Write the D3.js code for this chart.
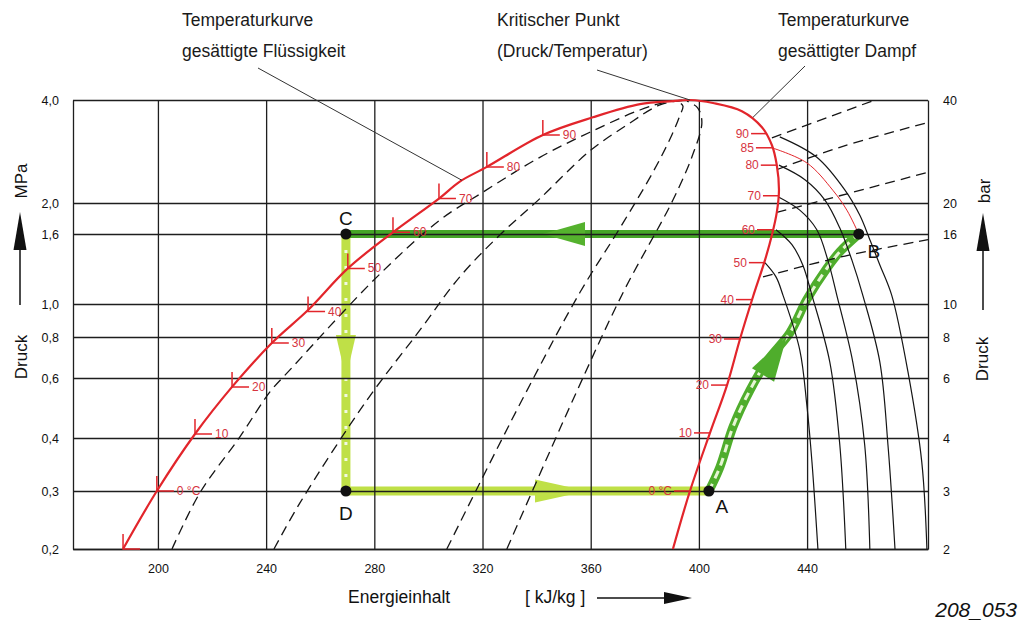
<!DOCTYPE html>
<html>
<head>
<meta charset="utf-8">
<script src="https://cdn.jsdelivr.net/npm/d3@7"></script>
<style>
body { margin: 0; background: #fff; }
svg { display: block; font-family: "Liberation Sans", Arial, sans-serif; }
</style>
</head>
<body>
<svg width="1025" height="621"></svg>
<script>
const svg = d3.select("svg");

// enthalpy h in kJ/kg, pressure p in MPa
const enthalpyTicks = [200, 240, 280, 320, 360, 400, 440];
const pressureTicks = [0.2, 0.3, 0.4, 0.6, 0.8, 1.0, 1.6, 2.0, 4.0];

// saturation curve, liquid side up to the critical point, then vapour side down
const saturationH = [187.1, 199.6, 213.7, 227.4, 242.1, 255.5, 270.2, 286.9, 303.9, 311.6, 321.6, 342.3, 360.8, 378.2, 390.4, 396.7,
    405.2, 415.9, 423.3, 427.0, 428.8, 429.6, 428.8, 427.0, 424.4, 420.0, 415.2, 410.4, 404.1, 396.7, 390.4];
const saturationP = [0.2, 0.3, 0.411, 0.565, 0.767, 0.96, 1.27, 1.62, 2.06, 2.31, 2.55, 3.16, 3.56, 3.89, 3.97, 4.0,
    3.92, 3.71, 3.33, 2.95, 2.58, 2.18, 1.87, 1.59, 1.34, 1.05, 0.789, 0.572, 0.414, 0.3, 0.2];

const liquidLabels = ["", "0 °C", "10", "20", "30", "40", "50", "60", "70", "80", "90"];
const liquidTickH = [187.1, 199.6, 213.7, 227.4, 242.1, 255.5, 270.2, 286.9, 303.9, 321.6, 342.3];
const liquidTickP = [0.2, 0.3, 0.411, 0.565, 0.767, 0.95, 1.27, 1.62, 2.06, 2.55, 3.16];

const vaporLabels = ["90", "85", "80", "70", "60", "50", "40", "30", "20", "10", "0 °C"];
const vaporTickH = [425.2, 427.0, 428.8, 429.6, 427.4, 424.4, 419.6, 415.2, 410.4, 404.1, 396.7];
const vaporTickP = [3.19, 2.90, 2.58, 2.10, 1.65, 1.32, 1.03, 0.789, 0.572, 0.414, 0.3];

// dashed lines inside the dome
const qualityH = [
    [205.2, 215.5, 230.3, 241.4, 248.8, 281.0, 304.3, 320.1, 341.2, 359.7, 378.2, 388.2, 394.8],
    [242.9, 252.5, 277.3, 296.9, 311.6, 326.4, 341.2, 359.7, 373.4, 385.6, 394.8],
    [306.8, 334.6, 356.0, 370.8, 383.0, 390.0, 393.0, 394.1, 392.2],
    [329.0, 353.4, 371.9, 390.4, 397.8, 401.1, 399.6, 395.6]
];
const qualityP = [
    [0.2, 0.296, 0.403, 0.546, 0.635, 1.20, 1.77, 2.15, 2.72, 3.22, 3.74, 3.95, 4.0],
    [0.2, 0.276, 0.517, 0.839, 1.20, 1.59, 2.06, 2.84, 3.38, 3.87, 4.0],
    [0.2, 0.517, 1.08, 1.67, 2.46, 3.16, 3.61, 3.84, 3.97],
    [0.2, 0.517, 1.077, 2.04, 2.78, 3.44, 3.79, 3.97]
];

// dashed lines in the superheated area
const isentropeH = [[427.0, 465.1], [429.2, 452.1, 484.7], [428.8, 452.1, 484.7], [423.7, 454.0, 484.7]];
const isentropeP = [[3.10, 4.0], [2.51, 2.91, 3.44], [1.87, 2.10, 2.46], [1.20, 1.38, 1.54]];

// solid arcs in the superheated area
const isothermH = [
    [424.4, 428.5, 431.1, 437.3, 439.9, 441.8, 444.0],
    [428.5, 434.4, 438.4, 441.8, 448.4, 452.1, 454.3],
    [429.6, 437.3, 443.6, 447.7, 451.0, 456.9, 461.3, 463.2],
    [429.6, 439.2, 446.6, 452.1, 456.6, 460.6, 466.9, 469.9, 472.5],
    [429.9, 443.6, 454.0, 459.5, 463.2, 466.9, 471.3, 477.3, 482.4, 484.3]
];
const isothermP = [
    [1.32, 1.20, 1.06, 0.730, 0.500, 0.351, 0.2],
    [1.65, 1.49, 1.30, 1.06, 0.671, 0.385, 0.2],
    [2.08, 1.90, 1.65, 1.34, 1.06, 0.671, 0.385, 0.2],
    [2.58, 2.34, 2.04, 1.67, 1.34, 1.06, 0.671, 0.385, 0.2],
    [3.12, 2.72, 2.18, 1.83, 1.54, 1.30, 1.06, 0.626, 0.351, 0.2]
];

// thin red line from 85 °C to B
const dischargeH = [427.0, 439.9, 449.5, 454.7, 459.1];
const dischargeP = [2.90, 2.62, 2.18, 1.90, 1.6];

// refrigeration cycle
const cycleNames = ["C", "D", "A", "B"];
const cycleH = [269.5, 269.5, 403.7, 459.1];
const cycleP = [1.6, 0.3, 0.3, 1.6];
const compressionH = [403.7, 407.8, 412.6, 418.9, 425.5, 433.6, 439.9, 447.3, 452.1, 459.1];
const compressionP = [0.3, 0.342, 0.431, 0.553, 0.681, 0.822, 1.03, 1.27, 1.42, 1.6];

const x = d3.scaleLinear().domain([168.6, 484.7]).range([73, 928]);
const y = d3.scaleLog().domain(pressureTicks).range([549, 491, 438, 378, 337, 304, 234, 203, 100]);

const zip = (hs, ps) => hs.map((h, i) => [h, ps[i]]);
const curve = d3.line().x(d => x(d[0])).y(d => y(d[1])).curve(d3.curveCatmullRom.alpha(0.5));
const straight = d3.line().x(d => x(d[0])).y(d => y(d[1]));
const pt = name => [cycleH[cycleNames.indexOf(name)], cycleP[cycleNames.indexOf(name)]];

const red = "#e2252b", redText = "#d6343f", green = "#4fad2c", darkGreen = "#45a527", yellowGreen = "#bfe047";

// ---- cycle lines (under the grid) ----
const gCycle = svg.append("g");

function arrow(tip, tail, hw, color) {
    const tx = x(tip[0]), ty = y(tip[1]), bx = x(tail[0]), by = y(tail[1]);
    const len = Math.hypot(tx - bx, ty - by), ux = (tx - bx) / len, uy = (ty - by) / len;
    gCycle.append("path")
        .attr("d", `M${tx},${ty}L${bx - uy * hw},${by + ux * hw}L${bx + uy * hw},${by - ux * hw}Z`)
        .attr("fill", color);
}

gCycle.append("path").attr("d", straight([pt("D"), pt("A")]))
    .attr("stroke", yellowGreen).attr("stroke-width", 9).attr("fill", "none");
gCycle.append("path").attr("d", straight([pt("C"), pt("D")]))
    .attr("stroke", yellowGreen).attr("stroke-width", 9).attr("fill", "none");
gCycle.append("path").attr("d", straight([pt("C"), pt("D")]))
    .attr("stroke", "#f2f9e4").attr("stroke-width", 3).attr("stroke-dasharray", "3,13").attr("fill", "none");
gCycle.append("path").attr("d", straight([pt("B"), pt("C")]))
    .attr("stroke", darkGreen).attr("stroke-width", 8).attr("fill", "none");
gCycle.append("path").attr("d", curve(zip(compressionH, compressionP)))
    .attr("stroke", green).attr("stroke-width", 9).attr("fill", "none");
gCycle.append("path").attr("d", curve(zip(compressionH, compressionP)))
    .attr("stroke", "#e6f5d4").attr("stroke-width", 3).attr("stroke-dasharray", "8,6").attr("fill", "none");

arrow([342.3, 1.6], [357.9, 1.6], 12, "#55b22e");
arrow([358.6, 0.3], [339.4, 0.3], 11.5, yellowGreen);
arrow([269.5, 0.6], [269.5, 0.811], 10, yellowGreen);
arrow([432.5, 0.805], [423.7, 0.613], 13, green);

// ---- grid and axes ----
const gridStyle = g => {
    g.attr("font-size", 12.5).attr("font-family", "Liberation Sans, Arial, sans-serif").attr("color", "#111");
    g.selectAll("line").attr("stroke", "#1e1e1e").attr("stroke-width", 1.3);
    g.select(".domain").attr("stroke", "#1e1e1e").attr("stroke-width", 1.3);
};

svg.append("g")
    .attr("transform", "translate(73,0)")
    .call(d3.axisLeft(y).tickValues(pressureTicks).tickSize(-855).tickSizeOuter(0).tickPadding(14)
        .tickFormat(d => d.toFixed(1).replace(".", ",")))
    .call(gridStyle);

svg.append("g")
    .attr("transform", "translate(0,549)")
    .call(d3.axisBottom(x).tickValues(enthalpyTicks).tickSize(-449).tickSizeOuter(0).tickPadding(15))
    .call(gridStyle);

svg.append("g")
    .attr("transform", "translate(928,0)")
    .call(d3.axisRight(y).tickValues(pressureTicks).tickSize(0).tickPadding(15)
        .tickFormat(d => Math.round(d * 10)))
    .call(gridStyle);

// ---- property lines ----
qualityH.forEach((hs, i) => {
    svg.append("path").attr("d", curve(zip(hs, qualityP[i])))
        .attr("fill", "none").attr("stroke", "#151515").attr("stroke-width", 1.3).attr("stroke-dasharray", "10,6");
});
isentropeH.forEach((hs, i) => {
    svg.append("path").attr("d", curve(zip(hs, isentropeP[i])))
        .attr("fill", "none").attr("stroke", "#151515").attr("stroke-width", 1.3).attr("stroke-dasharray", "10,6");
});
isothermH.forEach((hs, i) => {
    svg.append("path").attr("d", curve(zip(hs, isothermP[i])))
        .attr("fill", "none").attr("stroke", "#151515").attr("stroke-width", 1.2);
});

svg.append("path").attr("d", curve(zip(dischargeH, dischargeP)))
    .attr("fill", "none").attr("stroke", red).attr("stroke-width", 1);

svg.append("path").attr("d", curve(zip(saturationH, saturationP)))
    .attr("fill", "none").attr("stroke", red).attr("stroke-width", 2.2);

// temperature marks, liquid side
liquidLabels.forEach((lab, i) => {
    const cx = x(liquidTickH[i]), cy = y(liquidTickP[i]);
    svg.append("path").attr("d", `M${cx},${cy - 15}L${cx},${cy}L${cx + 17},${cy}`)
        .attr("fill", "none").attr("stroke", red).attr("stroke-width", 1.5);
    svg.append("text").attr("x", cx + 20).attr("y", cy + 4)
        .attr("font-size", 12).attr("fill", redText).text(lab);
});

// temperature marks, vapour side
vaporLabels.forEach((lab, i) => {
    const cx = x(vaporTickH[i]), cy = y(vaporTickP[i]);
    svg.append("path").attr("d", `M${cx - 16},${cy}L${cx},${cy}`)
        .attr("stroke", red).attr("stroke-width", 1.5);
    svg.append("text").attr("x", cx - 18).attr("y", cy + 4).attr("text-anchor", "end")
        .attr("font-size", 12).attr("fill", redText).text(lab);
});

// cycle points
const labelOffset = {C: [0, -9], D: [0, 29], A: [13, 22], B: [15, 24]};
cycleNames.forEach((n, i) => {
    const cx = x(cycleH[i]), cy = y(cycleP[i]);
    svg.append("circle").attr("cx", cx).attr("cy", cy).attr("r", 5.5).attr("fill", "#111");
    svg.append("text").attr("x", cx + labelOffset[n][0]).attr("y", cy + labelOffset[n][1])
        .attr("text-anchor", "middle").attr("font-size", 19).attr("fill", "#111").text(n);
});

// ---- annotations ----
const notes = [
    {lines: ["Temperaturkurve", "gesättigte Flüssigkeit"], x: 182, from: [258, 68], to: [312.4, 2.33]},
    {lines: ["Kritischer Punkt", "(Druck/Temperatur)"], x: 497, from: [597, 70], to: [396.7, 4.0]},
    {lines: ["Temperaturkurve", "gesättigter Dampf"], x: 778, from: [805, 66], to: [420.0, 3.56]}
];
notes.forEach(n => {
    n.lines.forEach((t, j) => {
        svg.append("text").attr("x", n.x).attr("y", 26 + j * 31)
            .attr("font-size", 17.5).attr("fill", "#1a1a1a").text(t);
    });
    svg.append("line")
        .attr("x1", n.from[0]).attr("y1", n.from[1])
        .attr("x2", x(n.to[0])).attr("y2", y(n.to[1]))
        .attr("stroke", "#333").attr("stroke-width", 1);
});

// axis titles
function vTitle(t, cx, cy) {
    svg.append("text").attr("transform", `translate(${cx},${cy}) rotate(-90)`)
        .attr("text-anchor", "middle").attr("font-size", 17).attr("fill", "#111").text(t);
}
function upArrow(cx, y0, y1) {
    svg.append("line").attr("x1", cx).attr("x2", cx).attr("y1", y0).attr("y2", y1 + 30)
        .attr("stroke", "#111").attr("stroke-width", 1.5);
    svg.append("path").attr("d", `M${cx},${y1}L${cx - 6.5},${y1 + 38}L${cx + 6.5},${y1 + 38}Z`).attr("fill", "#111");
}
vTitle("MPa", 27, 181);
vTitle("Druck", 27, 357);
upArrow(20, 305, 212);
vTitle("bar", 990, 191);
vTitle("Druck", 988, 359);
upArrow(983, 310, 213);

svg.append("text").attr("x", 348).attr("y", 603).attr("font-size", 17.5).attr("fill", "#111").text("Energieinhalt");
svg.append("text").attr("x", 525).attr("y", 603).attr("font-size", 17.5).attr("fill", "#111").text("[ kJ/kg ]");
svg.append("line").attr("x1", 597).attr("x2", 668).attr("y1", 598).attr("y2", 598)
    .attr("stroke", "#111").attr("stroke-width", 1.5);
svg.append("path").attr("d", "M692,598L664,592L664,604Z").attr("fill", "#111");

svg.append("text").attr("x", 1017).attr("y", 617).attr("text-anchor", "end")
    .attr("font-size", 21).attr("font-style", "italic").attr("fill", "#111").text("208_053");
</script>
</body>
</html>
